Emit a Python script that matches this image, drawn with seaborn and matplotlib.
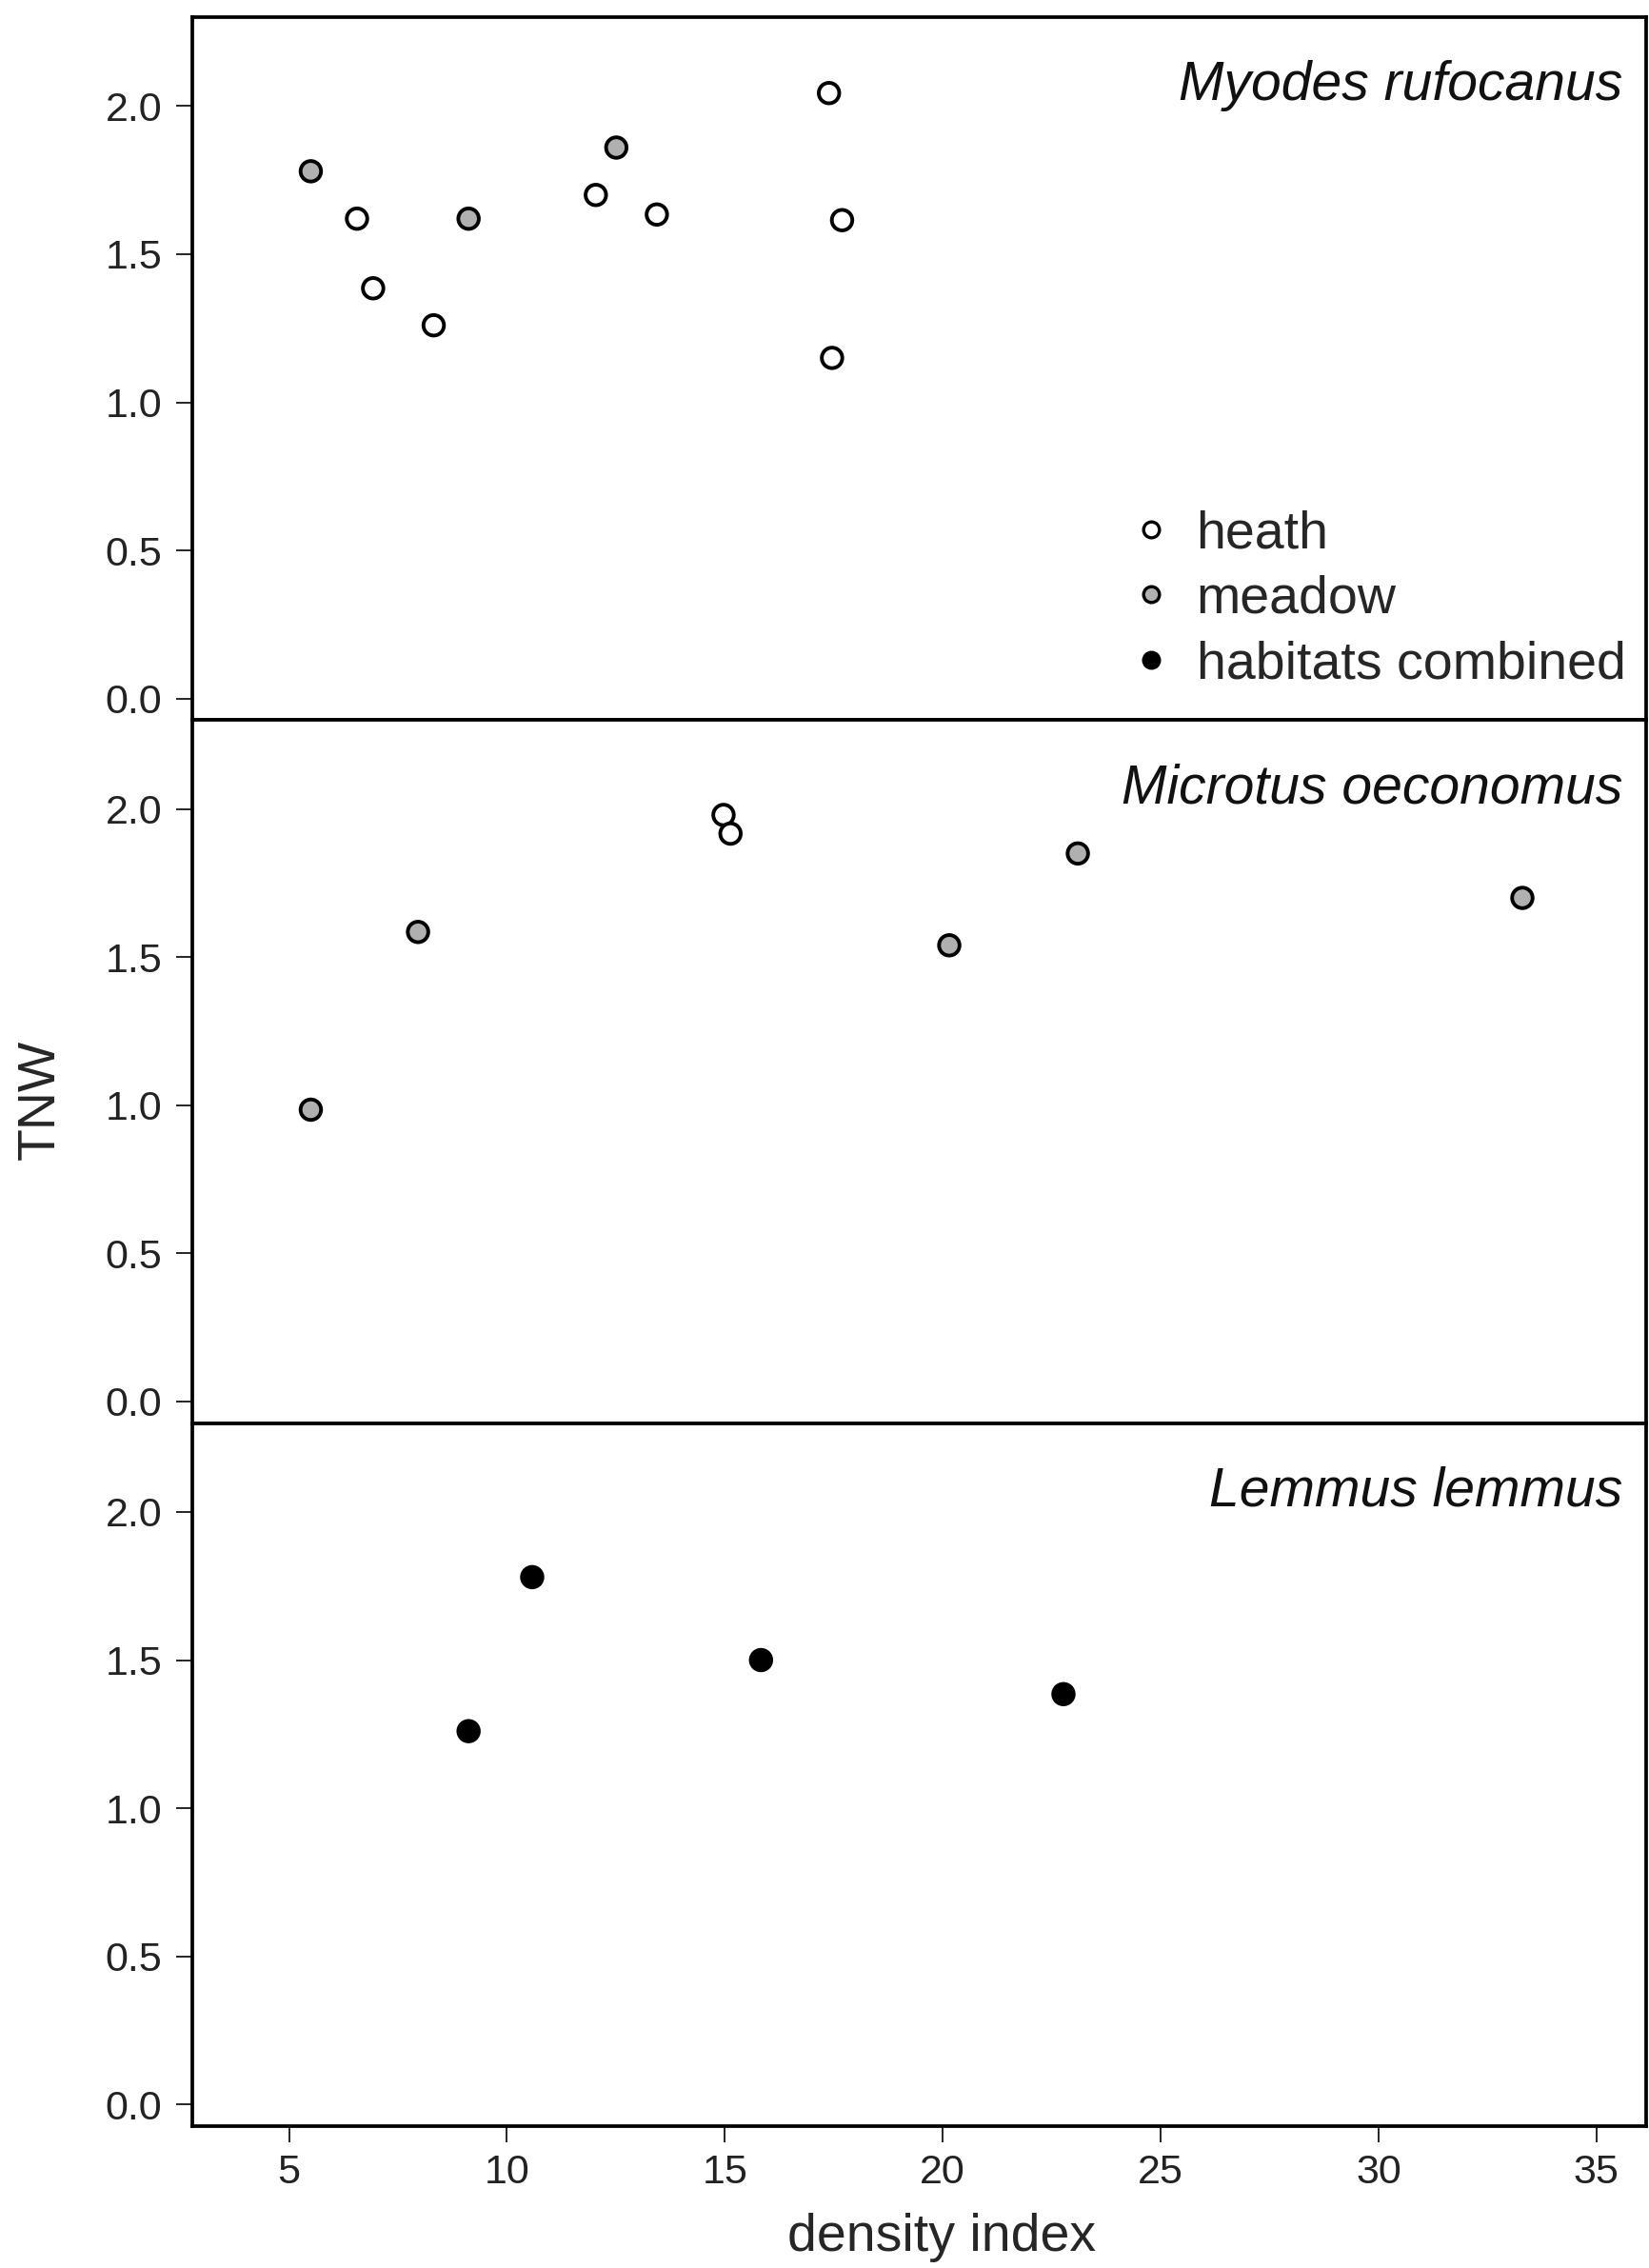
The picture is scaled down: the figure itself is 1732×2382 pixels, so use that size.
import pandas as pd
import numpy as np
import matplotlib.pyplot as plt
import seaborn as sns
from matplotlib.lines import Line2D

sns.set_style('ticks')
plt.rcParams['font.family'] = ['Liberation Sans', 'DejaVu Sans']

# values
species = ['Myodes rufocanus', 'Microtus oeconomus', 'Lemmus lemmus']

myodes_x = [5.5, 6.56, 6.93, 9.12, 8.32, 12.04, 12.51, 13.44, 17.39, 17.69, 17.46]
myodes_y = [1.78, 1.62, 1.385, 1.62, 1.26, 1.70, 1.86, 1.634, 2.044, 1.615, 1.15]
myodes_hab = ['meadow', 'heath', 'heath', 'meadow', 'heath', 'heath', 'meadow',
              'heath', 'heath', 'heath', 'heath']

microtus_x = [5.5, 7.96, 14.97, 15.13, 20.15, 23.1, 33.3]
microtus_y = [0.985, 1.585, 1.98, 1.917, 1.54, 1.85, 1.70]
microtus_hab = ['meadow', 'meadow', 'heath', 'heath', 'meadow', 'meadow', 'meadow']

lemmus_x = [9.12, 10.58, 15.83, 22.77]
lemmus_y = [1.26, 1.78, 1.50, 1.385]
lemmus_hab = ['habitats combined'] * 4

habitats = ['heath', 'meadow', 'habitats combined']
fills = {'heath': 'white', 'meadow': '#b0b0b0', 'habitats combined': 'black'}

df = pd.concat([
    pd.DataFrame({'density': myodes_x, 'TNW': myodes_y, 'habitat': myodes_hab, 'species': species[0]}),
    pd.DataFrame({'density': microtus_x, 'TNW': microtus_y, 'habitat': microtus_hab, 'species': species[1]}),
    pd.DataFrame({'density': lemmus_x, 'TNW': lemmus_y, 'habitat': lemmus_hab, 'species': species[2]}),
], ignore_index=True)

fig, axes = plt.subplots(3, 1, sharex=True, figsize=(17.32, 23.82), dpi=100)
fig.subplots_adjust(left=0.1166, right=0.998, top=0.9924, bottom=0.0626, hspace=0)

for i, (ax, sp) in enumerate(zip(axes, species)):
    sub = df[df['species'] == sp]
    sns.scatterplot(sub, x='density', y='TNW', hue='habitat', palette=fills,
                    hue_order=habitats, edgecolor='black', linewidth=2.8,
                    s=240, legend=False, ax=ax, zorder=3)
    ax.set_xlim(2.78, 36.13)
    ax.set_ylim(-0.073, 2.30)
    ax.set_yticks([0.0, 0.5, 1.0, 1.5, 2.0])
    ax.set_yticklabels(['0.0', '0.5', '1.0', '1.5', '2.0'])
    ax.set_xlabel('')
    ax.set_ylabel('')
    for s in ax.spines.values():
        s.set_visible(True)
        s.set_linewidth(2.7)
        s.set_color('black')
    ax.tick_params(axis='y', length=12, width=1.4, pad=11, labelsize=31,
                   labelcolor='#222222', direction='out')
    if i < 2:
        ax.tick_params(axis='x', length=0, labelbottom=False)
    else:
        ax.tick_params(axis='x', length=12, width=1.4, pad=9, labelsize=31,
                       labelcolor='#222222', direction='out')
    ax.text(0.984, 0.882, sp, transform=ax.transAxes, ha='right', va='baseline',
            fontsize=41, style='italic', color='#111111')

axes[2].set_xticks([5, 10, 15, 20, 25, 30, 35])

handles = [Line2D([], [], marker='o', linestyle='', markersize=12,
                  markerfacecolor=fills[h], markeredgecolor='black',
                  markeredgewidth=2.4, label=h) for h in habitats]
axes[0].legend(handles=handles, loc='lower right', bbox_to_anchor=(1.008, -0.002),
               frameon=False, fontsize=40, handletextpad=0.25, labelspacing=0.3,
               handlelength=1.2, borderaxespad=0.2)

fig.text(43 / 1732, 0.515, 'TNW', rotation=90, ha='center', va='center', fontsize=40)
fig.text(0.571, 0.0075, 'density index', ha='center', va='baseline', fontsize=40)

fig.savefig('out.png', dpi=100)
plt.close()
